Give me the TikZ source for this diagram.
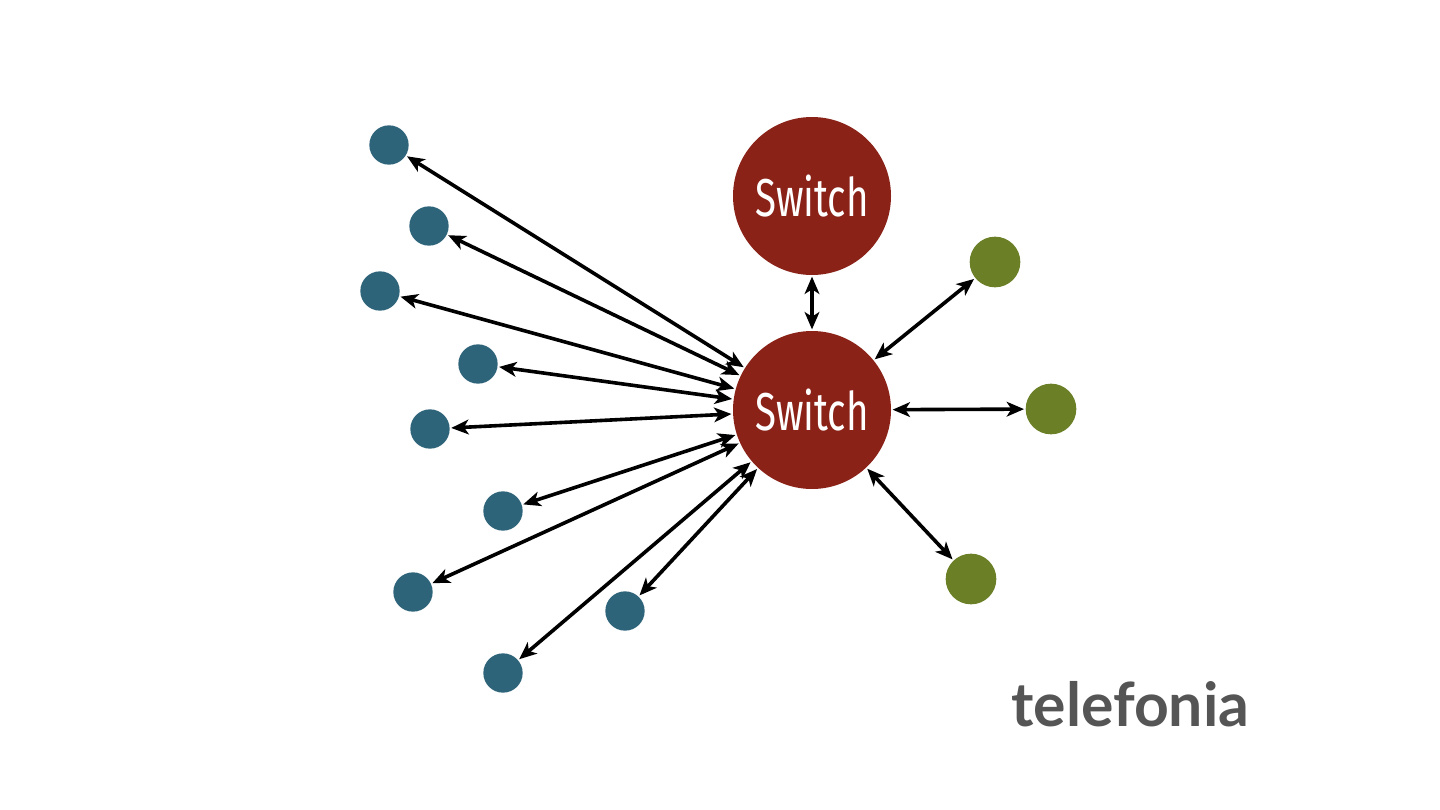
\documentclass[tikz,border=0pt]{standalone}
\usepackage{fontspec}
\usetikzlibrary{arrows.meta}
\newfontfamily\swfont[FakeStretch=0.72]{Fira Sans}
\newfontfamily\labfont{Lato}
\definecolor{swred}{HTML}{8A2218}
\definecolor{dotblue}{HTML}{2E6479}
\definecolor{dotgreen}{HTML}{6A7F26}
\definecolor{labgray}{HTML}{555555}
\tikzset{
  switchnode/.style={circle, fill=swred, minimum size=118.5pt, inner sep=0pt, text=white, font=\swfont\fontsize{40}{44}\selectfont},
  bluedot/.style={circle, fill=dotblue, minimum size=29.5pt, inner sep=0pt},
  greendot/.style={circle, fill=dotgreen, minimum size=38pt, inner sep=0pt},
  link/.style={line width=2.7pt, {Stealth[length=13pt,width=11pt,inset=3.5pt]}-{Stealth[length=13pt,width=11pt,inset=3.5pt]}, shorten <=1pt, shorten >=1pt}
}
\begin{document}
\begin{tikzpicture}[x=0.75pt,y=-0.75pt]
\useasboundingbox (0,0) rectangle (1440,810);
\node[switchnode] (s1) at (812,196) {Switch};
\node[switchnode] (s2) at (812,410) {Switch};
\node[bluedot] (b1) at (389,145) {};
\node[bluedot] (b2) at (429,226) {};
\node[bluedot] (b3) at (380,291) {};
\node[bluedot] (b4) at (478,364) {};
\node[bluedot] (b5) at (430,429) {};
\node[bluedot] (b6) at (503,511) {};
\node[bluedot] (b7) at (413,592) {};
\node[bluedot] (b8) at (625,611) {};
\node[bluedot] (b9) at (503,673) {};
\node[greendot] (g1) at (995,262) {};
\node[greendot] (g2) at (1051,409) {};
\node[greendot] (g3) at (971,579) {};
\foreach \n in {b1,b2,b3,b4,b5,b6,b7,b8,b9,g1,g2,g3}
  \draw[link] (\n) -- (s2);
\draw[link] (s1) -- (s2);
\node[anchor=base east, text=labgray, font=\labfont\bfseries\fontsize{45.5}{50}\selectfont] (lab) at (1254,726) {telefonia};
\end{tikzpicture}
\end{document}
